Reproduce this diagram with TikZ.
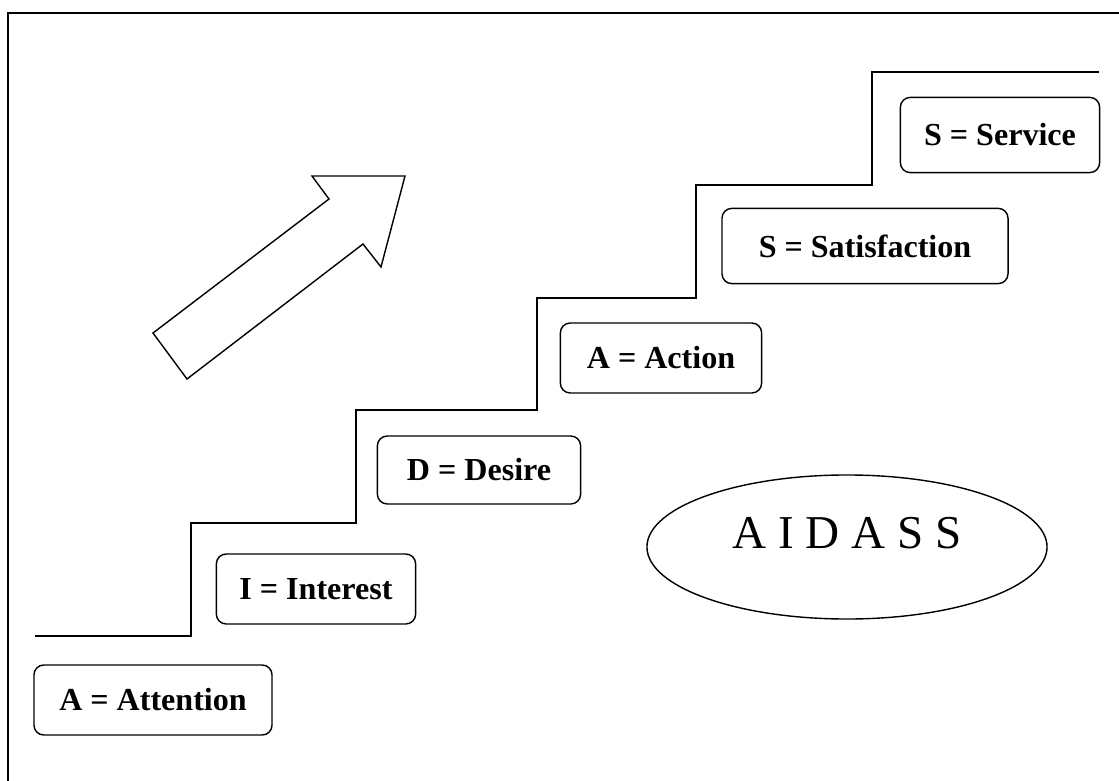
\documentclass[tikz,border=0pt]{standalone}
\usepackage{fontspec}
\setmainfont{Liberation Serif}
\usetikzlibrary{shapes.geometric}

\begin{document}
\begin{tikzpicture}[x=0.025cm, y=-0.025cm, line join=miter, line width=1pt,
        stepbox/.style={draw, rounded corners=7pt, font=\bfseries\fontsize{22.8}{26}\selectfont, inner sep=0pt, minimum height=1.75cm},
        every node/.style={outer sep=0pt}]
    \useasboundingbox (0, 0) rectangle (1119, 781);
    % frame (cut off at right and bottom)
    \draw[line width=1.5pt] (8, 781) -- (8, 13) -- (1119, 13);

    % stairs
    \draw (35, 636) -- (191, 636) -- (191, 523) -- (356, 523) -- (356, 410)
        -- (537, 410) -- (537, 298) -- (696, 298) -- (696, 185)
        -- (872, 185) -- (872, 72) -- (1099, 72);

    % arrow
    \draw (153, 333) -- (187, 379) -- (363, 244) -- (381, 267) -- (405, 176)
        -- (312, 176) -- (329, 199) -- cycle;

    % steps
    \node[stepbox, minimum width=5.95cm] (attention) at (153, 700) {A = Attention};
    \node[stepbox, minimum width=4.98cm] (interest) at (316, 589) {I = Interest};
    \node[stepbox, minimum width=5.08cm, minimum height=1.7cm] (desire) at (479, 470) {D = Desire};
    \node[stepbox, minimum width=5.03cm] (action) at (661, 358) {A = Action};
    \node[stepbox, minimum width=7.15cm, minimum height=1.88cm] (satisfaction) at (865, 246) {S = Satisfaction};
    \node[stepbox, minimum width=4.98cm, minimum height=1.88cm] (service) at (1000, 135) {S = Service};

    \node[draw, ellipse, minimum width=10cm, minimum height=3.6cm] (aidass) at (847, 547) {};
    \node[font=\fontsize{33.5}{38}\selectfont] (aidasstext) at (847, 533) {A I D A S S};
\end{tikzpicture}
\end{document}
